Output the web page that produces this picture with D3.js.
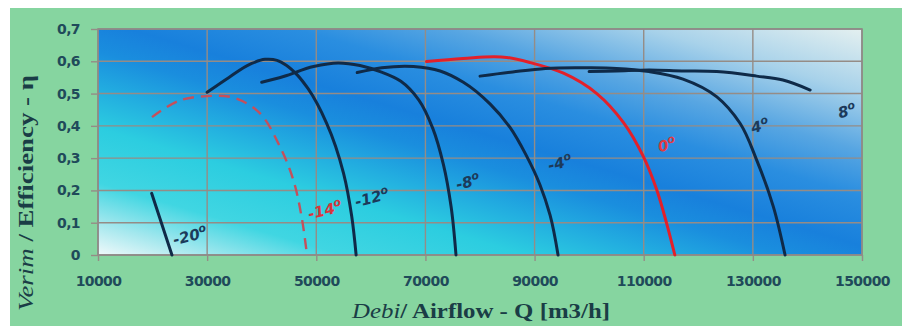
<!DOCTYPE html>
<html><head><meta charset="utf-8">
<script src="https://cdn.jsdelivr.net/npm/d3@7/dist/d3.min.js"></script>
<style>body{margin:0;background:#fff;} svg{display:block;}</style>
</head><body>
<svg id="chart" width="910" height="327"></svg>
<script>
// ---- data ----
const xTickValues = [10000, 30000, 50000, 70000, 90000, 110000, 130000, 150000];
const xTickLabels = ["10000", "30000", "50000", "70000", "90000", "110000", "130000", "150000"];
const yTickValues = [0, 0.1, 0.2, 0.3, 0.4, 0.5, 0.6, 0.7];
const yTickLabels = ["0", "0,1", "0,2", "0,3", "0,4", "0,5", "0,6", "0,7"];

const seriesNames = ["-20", "-14", "-12", "-8", "-4", "0", "4", "8"];
// [airflow Q (m3/h), efficiency]
const curveM20 = [[19830, 0.191], [23550, 0]];
const curveM14 = [[19900, 0.427], [25000, 0.479], [29900, 0.492], [34700, 0.488], [39100, 0.448], [43350, 0.335], [45800, 0.232], [47300, 0.119], [48300, 0]];
const curveM12 = [[30000, 0.504], [34000, 0.550], [38000, 0.592], [40600, 0.606], [42800, 0.603], [44500, 0.588], [46500, 0.558], [48500, 0.515], [51900, 0.408], [55000, 0.253], [56500, 0.119], [57300, 0]];
const curveM8 = [[40000, 0.535], [44000, 0.553], [49500, 0.584], [54000, 0.595], [58000, 0.587], [61700, 0.568], [65500, 0.538], [68800, 0.480], [71400, 0.390], [73300, 0.280], [74700, 0.150], [75600, 0]];
const curveM4 = [[57500, 0.565], [62000, 0.580], [67800, 0.584], [72700, 0.570], [76950, 0.535], [81830, 0.468], [85500, 0.395], [88430, 0.310], [91000, 0.217], [92830, 0.124], [94300, 0]];
const curve0 = [[70200, 0.599], [76900, 0.609], [84900, 0.612], [89200, 0.596], [95300, 0.563], [101400, 0.500], [106300, 0.410], [109900, 0.306], [112400, 0.201], [114200, 0.098], [115700, 0]];
const curveP4 = [[80000, 0.554], [86000, 0.567], [92000, 0.578], [100000, 0.580], [105000, 0.578], [111000, 0.568], [117200, 0.545], [123400, 0.490], [127650, 0.408], [130700, 0.294], [133750, 0.150], [135900, 0]];
const curveP8 = [[100000, 0.568], [105000, 0.570], [111000, 0.573], [117000, 0.570], [123400, 0.568], [130700, 0.554], [135500, 0.542], [140500, 0.511]];
const labelAnchorQ = [26860, 51600, 60200, 77800, 94660, 114270, 131300, 147250];
const labelAnchorEta = [0.059, 0.139, 0.177, 0.226, 0.285, 0.341, 0.400, 0.446];

const seriesData = [curveM20, curveM14, curveM12, curveM8, curveM4, curve0, curveP4, curveP8];
const seriesColor = ["#0f2a48", "#c4505c", "#0f2a48", "#0f2a48", "#0f2a48", "#e3202a", "#0f2a48", "#0f2a48"];
const seriesDash = [null, "11,7", null, null, null, null, null, null];
const labelColor = ["#1c3a5a", "#d8343c", "#1c3a5a", "#1c3a5a", "#1c3a5a", "#e03a40", "#1c3a5a", "#1c3a5a"];

// ---- layout ----
const svg = d3.select("#chart");
const L = 98, R = 862, T = 29, B = 255;
const x = d3.scaleLinear().domain([10000, 150000]).range([L, R]);
const y = d3.scaleLinear().domain([0, 0.7]).range([B, T]);

svg.append("rect").attr("x", 10).attr("y", 8).attr("width", 892).attr("height", 318).attr("fill", "#86d5a0");

const defs = svg.append("defs");
const g1 = defs.append("linearGradient").attr("id", "bg").attr("x1", 0).attr("y1", 1).attr("x2", 1).attr("y2", 0);
[[0, "#f0f9fa"], [0.07, "#a6e8ee"], [0.16, "#40d6e2"], [0.28, "#2ccde0"], [0.37, "#22ace0"], [0.45, "#1a8ede"], [0.52, "#1880dc"], [0.63, "#2a8ee0"], [0.73, "#58a6e2"], [0.86, "#a8d2ea"], [1, "#e4f0f0"]]
  .forEach(s => g1.append("stop").attr("offset", s[0]).attr("stop-color", s[1]));

svg.append("rect").attr("x", L).attr("y", T).attr("width", R - L).attr("height", B - T).attr("fill", "url(#bg)");

// gridlines
const grid = svg.append("g").attr("stroke", "#958c86").attr("stroke-width", 1.4);
grid.selectAll("line.h").data(yTickValues).join("line")
  .attr("x1", L).attr("x2", R).attr("y1", d => y(d)).attr("y2", d => y(d));
grid.selectAll("line.v").data(xTickValues).join("line")
  .attr("y1", T).attr("y2", B).attr("x1", d => x(d)).attr("x2", d => x(d));
svg.append("rect").attr("x", L).attr("y", T).attr("width", R - L).attr("height", B - T)
  .attr("fill", "none").attr("stroke", "#8e8a88").attr("stroke-width", 1.6);

// axes
const tickFont = "DejaVu Sans, sans-serif";
const yAxis = svg.append("g").attr("transform", `translate(${L},0)`)
  .call(d3.axisLeft(y).tickValues(yTickValues).tickFormat((d, i) => yTickLabels[i]).tickSize(7).tickPadding(11));
const xAxis = svg.append("g").attr("transform", `translate(0,${B})`)
  .call(d3.axisBottom(x).tickValues(xTickValues).tickFormat((d, i) => xTickLabels[i]).tickSize(6).tickPadding(15));
[yAxis, xAxis].forEach(a => {
  a.select(".domain").remove();
  a.selectAll(".tick line").attr("stroke", "#958c86").attr("stroke-width", 1.4);
  a.selectAll(".tick text").attr("font-family", tickFont).attr("font-weight", "bold")
    .attr("font-size", 14).attr("fill", "#1f4a5a").attr("letter-spacing", -0.6);
});

// curves
const line = d3.line().x(d => x(d[0])).y(d => y(d[1])).curve(d3.curveCatmullRom.alpha(1));
seriesData.forEach((data, i) => {
  svg.append("path").datum(data).attr("d", line).attr("fill", "none")
    .attr("stroke", seriesColor[i]).attr("stroke-width", i === 1 ? 2.4 : 3)
    .attr("stroke-linecap", i === 1 ? "butt" : "round").attr("stroke-linejoin", "round")
    .attr("stroke-dasharray", seriesDash[i]);
});

// labels
seriesNames.forEach((n, i) => {
  const cx = x(labelAnchorQ[i]), cy = y(labelAnchorEta[i]);
  const t = svg.append("text").attr("transform", `translate(${cx},${cy}) rotate(-14)`)
    .attr("text-anchor", "middle").attr("dy", "0.35em")
    .attr("font-family", "DejaVu Sans, sans-serif").attr("font-weight", "bold").attr("font-style", "italic")
    .attr("font-size", 15).attr("fill", labelColor[i]);
  t.append("tspan").text(n);
  t.append("tspan").attr("font-size", 11).attr("dy", "-0.55em").text("o");
});

// axis titles
const xt = svg.append("text").attr("x", 481).attr("y", 318).attr("text-anchor", "middle")
  .attr("font-family", "Liberation Serif, serif").attr("font-size", 21).attr("fill", "#1a3d46")
  .attr("textLength", 258).attr("lengthAdjust", "spacingAndGlyphs");
xt.append("tspan").attr("font-style", "italic").text("Debi");
xt.append("tspan").attr("font-weight", "bold").text("/ Airflow - Q [m3/h]");

const yt = svg.append("text").attr("transform", "translate(33,193) rotate(-90)").attr("text-anchor", "middle")
  .attr("font-family", "Liberation Serif, serif").attr("font-size", 20).attr("fill", "#1a3d46")
  .attr("textLength", 236).attr("lengthAdjust", "spacingAndGlyphs");
yt.append("tspan").attr("font-style", "italic").text("Verim");
yt.append("tspan").attr("font-weight", "bold").text(" / Efficiency - η");
</script>
</body></html>
